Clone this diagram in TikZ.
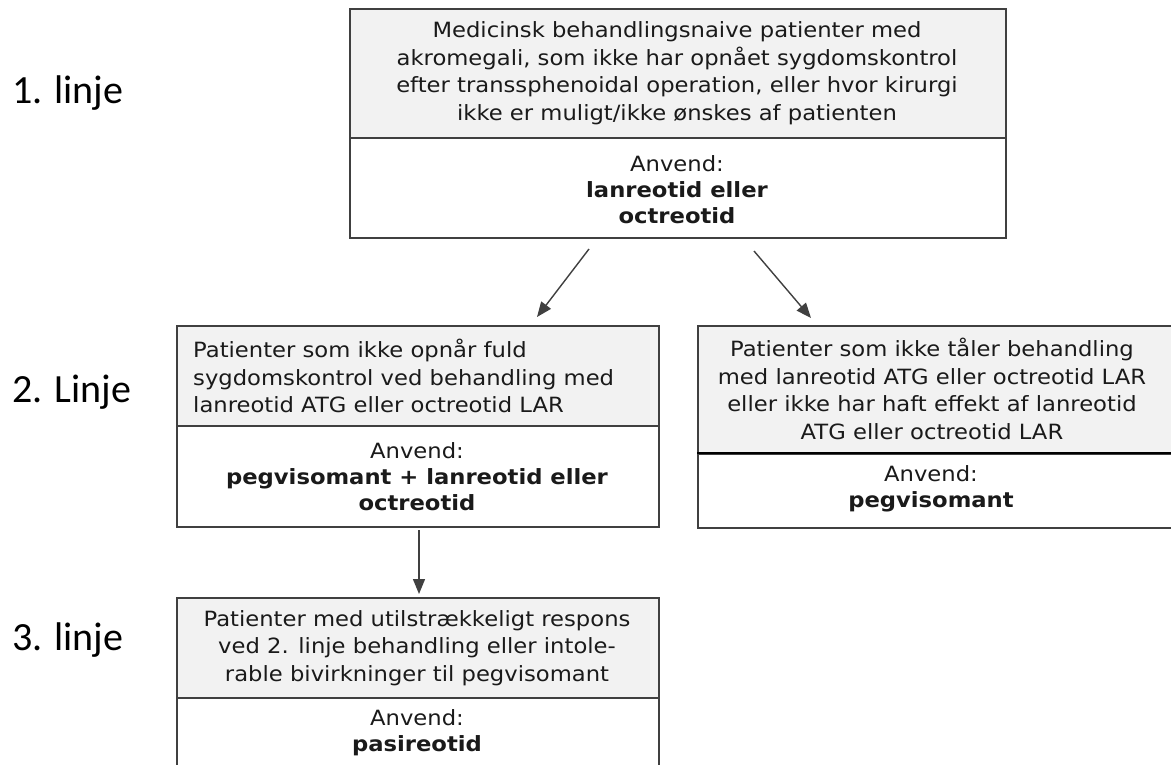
\documentclass[tikz,border=0pt]{standalone}
\usepackage{fontspec}
\setmainfont[FakeStretch=1.08]{DejaVu Sans}
\newfontfamily\lblfont{Carlito}
\usetikzlibrary{arrows.meta}
\definecolor{hdrgray}{HTML}{F2F2F2}
\definecolor{linegray}{HTML}{404040}
\definecolor{txtgray}{HTML}{1A1A1A}
\begin{document}
\begin{tikzpicture}[x=1pt,y=-1pt,
  hdr/.style={draw=linegray, line width=1.8pt, fill=hdrgray, anchor=north west, inner sep=0pt},
  bodybox/.style={draw=linegray, line width=1.8pt, fill=white, anchor=north west, inner sep=0pt},
  txt/.style={align=center, font=\fontsize{21}{27.5}\selectfont, text=txtgray, inner sep=0pt},
  btxt/.style={align=center, font=\fontsize{21}{26}\selectfont, text=txtgray, inner sep=0pt},
  lbl/.style={font=\lblfont\fontsize{40}{48}\selectfont, anchor=base west, inner sep=0pt, text=black},
  conn/.style={draw=linegray, line width=1.4pt, -{Triangle[length=15pt,width=12pt]}}
]
\useasboundingbox (0,0) rectangle (1171,764);
\fill[white] (0,0) rectangle (1171,764);

% row labels
\node[lbl] (l1) at (12,103) {1. linje};
\node[lbl] (l2) at (12,402) {2. Linje};
\node[lbl] (l3) at (12,650) {3. linje};

% box 1
\node[hdr, minimum width=656pt, minimum height=129pt] (h1) at (349,8) {};
\node[bodybox, minimum width=656pt, minimum height=100pt] (b1) at (349,137) {};
\node[txt] (h1t) at (677,73) {Medicinsk behandlingsnaive patienter med\\akromegali, som ikke har opnået sygdomskontrol\\efter transsphenoidal operation, eller hvor kirurgi\\ikke er muligt/ikke ønskes af patienten};
\node[btxt] (b1t) at (677,190) {Anvend:\\\textbf{lanreotid eller}\\\textbf{octreotid}};

% box 2
\node[hdr, minimum width=482pt, minimum height=100pt] (h2) at (176,325) {};
\node[bodybox, minimum width=482pt, minimum height=101pt] (b2) at (176,425) {};
\node[txt, align=left, anchor=west] (h2t) at (193,376) {Patienter som ikke opnår fuld\\sygdomskontrol ved behandling med\\lanreotid ATG eller octreotid LAR};
\node[btxt] (b2t) at (417,477) {Anvend:\\\textbf{pegvisomant + lanreotid eller}\\\textbf{octreotid}};

% box 3
\node[hdr, minimum width=476pt, minimum height=128pt] (h3) at (697,325) {};
\node[bodybox, minimum width=476pt, minimum height=74pt] (b3) at (697,453) {};
\draw[black, line width=2.8pt] (b3.north west) -- (b3.north east);
\node[txt] (h3t) at (932,389) {Patienter som ikke tåler behandling\\med lanreotid ATG eller octreotid LAR\\eller ikke har haft effekt af lanreotid\\ATG eller octreotid LAR};
\node[btxt] (b3t) at (931,489) {Anvend:\\\textbf{pegvisomant}};

% box 4
\node[hdr, minimum width=482pt, minimum height=100pt] (h4) at (176,597) {};
\node[bodybox, minimum width=482pt, minimum height=100pt] (b4) at (176,697) {};
\node[txt] (h4t) at (417,648) {Patienter med utilstrækkeligt respons\\ved 2. linje behandling eller intole-\\rable bivirkninger til pegvisomant};
\node[btxt] (b4t) at (417,733) {Anvend:\\\textbf{pasireotid}};

% connectors
\coordinate (a1s) at (589,249);
\coordinate (a1e) at (537,317);
\coordinate (a2s) at (754,251);
\coordinate (a2e) at (811,318);
\coordinate (a3s) at (419,530);
\coordinate (a3e) at (419,594);
\draw[conn] (a1s) -- (a1e);
\draw[conn] (a2s) -- (a2e);
\draw[conn] (a3s) -- (a3e);
\end{tikzpicture}
\end{document}
